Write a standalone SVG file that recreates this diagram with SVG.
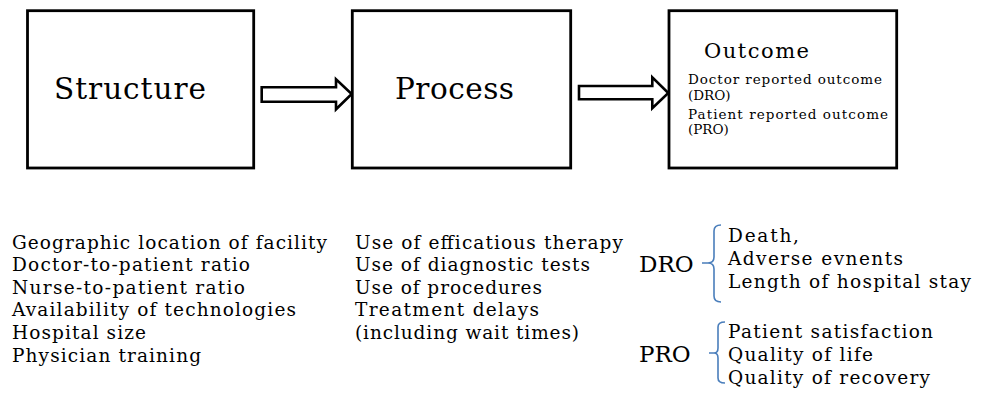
<svg xmlns="http://www.w3.org/2000/svg" width="986" height="393" viewBox="0 0 986 393">
<style>
.box{fill:#fff;stroke:#000;stroke-width:2.8}
.arrow{fill:#fff;stroke:#000;stroke-width:2.6;stroke-linejoin:miter}
.t{font-family:"DejaVu Serif",serif;fill:#000}
.big{font-size:29.5px}
.mid{font-size:21px}
.lbl{font-size:23px}
.sm{font-size:13.5px}
.list{font-size:18.5px}
.brace{fill:none;stroke:#4a7ebb;stroke-width:1.6}
</style>
<rect width="986" height="393" fill="#fff"/>
<g id="connectors">
<polygon class="arrow" points="261.7,87.3 336,87.3 336,79.3 351.7,94 336,109.3 336,101.7 261.7,101.7"/>
<polygon class="arrow" points="579,86 652.3,86 652.3,77.3 668.3,93 652.3,108.3 652.3,99.3 579,99.3"/>
</g>
<g id="structure">
<rect class="box" x="27.5" y="10.7" width="226.2" height="157.3"/>
<text class="t big" x="54" y="98.5" textLength="152" lengthAdjust="spacing">Structure</text>
</g>
<g id="process">
<rect class="box" x="352.3" y="10.7" width="218.4" height="157.3"/>
<text class="t big" x="395" y="98.5" textLength="119" lengthAdjust="spacing">Process</text>
</g>
<g id="outcome">
<rect class="box" x="669" y="10.7" width="227.7" height="157.3"/>
<text class="t mid" x="704" y="58" textLength="105" lengthAdjust="spacing">Outcome</text>
<text class="t sm" x="688" y="84" textLength="194" lengthAdjust="spacing">Doctor reported outcome</text>
<text class="t sm" x="688" y="99.5">(DRO)</text>
<text class="t sm" x="688" y="118.5" textLength="200" lengthAdjust="spacing">Patient reported outcome</text>
<text class="t sm" x="688" y="134">(PRO)</text>
</g>
<g id="structure-list">
<text class="t list" x="12" y="248.5" textLength="315" lengthAdjust="spacing">Geographic location of facility</text>
<text class="t list" x="12" y="271" textLength="238" lengthAdjust="spacing">Doctor-to-patient ratio</text>
<text class="t list" x="12" y="293.7" textLength="233" lengthAdjust="spacing">Nurse-to-patient ratio</text>
<text class="t list" x="12" y="316.3" textLength="284" lengthAdjust="spacing">Availability of technologies</text>
<text class="t list" x="12" y="339" textLength="134" lengthAdjust="spacing">Hospital size</text>
<text class="t list" x="12" y="361.5" textLength="189" lengthAdjust="spacing">Physician training</text>
</g>
<g id="process-list">
<text class="t list" x="355" y="248.5" textLength="268" lengthAdjust="spacing">Use of efficatious therapy</text>
<text class="t list" x="355" y="271" textLength="235" lengthAdjust="spacing">Use of diagnostic tests</text>
<text class="t list" x="355" y="293.7" textLength="187" lengthAdjust="spacing">Use of procedures</text>
<text class="t list" x="355" y="316.3" textLength="184" lengthAdjust="spacing">Treatment delays</text>
<text class="t list" x="355" y="339" textLength="224" lengthAdjust="spacing">(including wait times)</text>
</g>
<g id="dro">
<text class="t lbl" x="639" y="272">DRO</text>
<path class="brace" d="M721,225 Q714,225 714,231 L714,257 Q714,263 708,263 L702,263 M708,263 Q714,263 714,269 L714,296 Q714,302 721,302"/>
<text class="t list" x="728" y="242" textLength="71" lengthAdjust="spacing">Death,</text>
<text class="t list" x="728" y="265" textLength="175" lengthAdjust="spacing">Adverse evnents</text>
<text class="t list" x="728" y="288" textLength="243" lengthAdjust="spacing">Length of hospital stay</text>
</g>
<g id="pro">
<text class="t lbl" x="639" y="362">PRO</text>
<path class="brace" d="M725,322 Q718,322 718,327 L718,348 Q718,353 714,353 L709,353 M714,353 Q718,353 718,358 L718,378 Q718,383 725,383"/>
<text class="t list" x="728" y="338" textLength="205" lengthAdjust="spacing">Patient satisfaction</text>
<text class="t list" x="728" y="361" textLength="145" lengthAdjust="spacing">Quality of life</text>
<text class="t list" x="728" y="384" textLength="202" lengthAdjust="spacing">Quality of recovery</text>
</g>
</svg>
